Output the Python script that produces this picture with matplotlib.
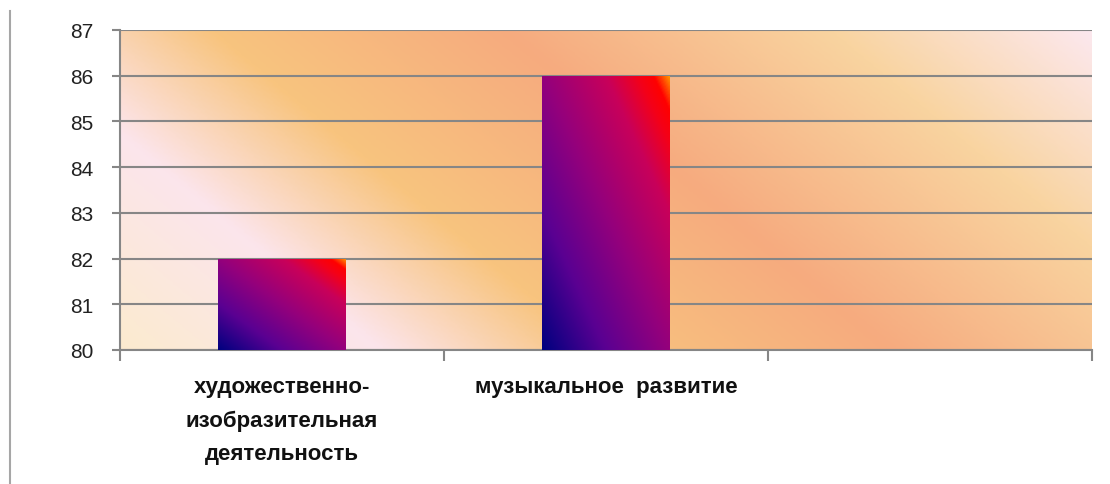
import numpy as np
import matplotlib.pyplot as plt
from matplotlib.colors import LinearSegmentedColormap
from matplotlib.lines import Line2D

# data
categories = ['художественно-\nизобразительная\nдеятельность', 'музыкальное  развитие', '']
values = [82, 86, np.nan]
y_ticks = [80, 81, 82, 83, 84, 85, 86, 87]

W, H = 1110, 485
fig = plt.figure(figsize=(W / 100, H / 100), dpi=100)
ax = fig.add_axes([120 / W, (H - 351) / H, 972 / W, 320 / H])

x = np.arange(len(categories))

# background: diagonal stripes like the excel preset
bg_cmap = LinearSegmentedColormap.from_list('bg', [
    (0.00, '#fbebcf'),
    (0.19, '#fce5ec'),
    (0.35, '#f8c47e'),
    (0.57, '#f6ab7f'),
    (0.81, '#f9d4a0'),
    (1.00, '#fce8ee'),
])
u, v = np.meshgrid(np.linspace(0, 1, 400), np.linspace(1, 0, 200))
px = 120 + 972 * u
py = 31 + 320 * (1 - v)
t = px - 1.2 * py
t = (t - t.min()) / (t.max() - t.min())
ax.imshow(t, cmap=bg_cmap, extent=(0, 1, 0, 1), transform=ax.transAxes,
          aspect='auto', interpolation='bilinear', zorder=0)

# grid
ax.set_axisbelow(True)
ax.yaxis.grid(True, color='#868686', lw=1.5, zorder=0.5)
for s in ['top', 'right']:
    ax.spines[s].set_visible(False)
for s in ['left', 'bottom']:
    ax.spines[s].set_color('#868686')
    ax.spines[s].set_linewidth(1.5)

# bars with a diagonal navy -> red gradient
bar_cmap = LinearSegmentedColormap.from_list('bar', [
    (0.00, '#00007f'),
    (0.25, '#5a0092'),
    (0.50, '#94007c'),
    (0.75, '#c8005a'),
    (0.88, '#f40018'),
    (0.94, '#ff0000'),
    (1.00, '#ff9000'),
])
a, b = np.meshgrid(np.linspace(0, 1, 100), np.linspace(1, 0, 200))
grad = (a + b) / 2
bar_w = 0.395
bars = ax.bar(x, values, width=bar_w, bottom=0, color='none', lw=0, zorder=2)
for rect, val in zip(bars, values):
    if np.isnan(val):
        continue
    x0 = rect.get_x()
    im = ax.imshow(grad, cmap=bar_cmap, vmin=0, vmax=1,
                   extent=(x0, x0 + bar_w, y_ticks[0], val),
                   aspect='auto', interpolation='bilinear', zorder=3)
    im.set_clip_path(rect)
ax.set_xlim(-0.5, len(categories) - 0.5)
ax.set_ylim(y_ticks[0], y_ticks[-1])

# y axis
ax.set_yticks(y_ticks)
ax.set_yticklabels([str(v) for v in y_ticks], fontsize=15, color='#222222',
                   family='Liberation Sans')
ax.tick_params(axis='y', length=6, width=1.5, color='#868686', pad=13)

# x axis: labels at centres, tick marks at category borders
ax.set_xticks(x)
ax.set_xticklabels(categories, fontsize=16, fontweight='bold', color='#111111',
                   family='Liberation Sans', linespacing=1.75, va='top')
ax.tick_params(axis='x', which='major', length=0, pad=19)
ax.set_xticks(np.arange(len(categories) + 1) - 0.5, minor=True)
ax.tick_params(axis='x', which='minor', length=8, width=1.5, color='#868686')

# thin grey rule at the left edge of the picture
fig.add_artist(Line2D([10 / W, 10 / W], [0, 1 - 12 / H], transform=fig.transFigure,
                      color='#a6a6a6', lw=1.5))

fig.savefig('out.png', dpi=100, facecolor='white')
